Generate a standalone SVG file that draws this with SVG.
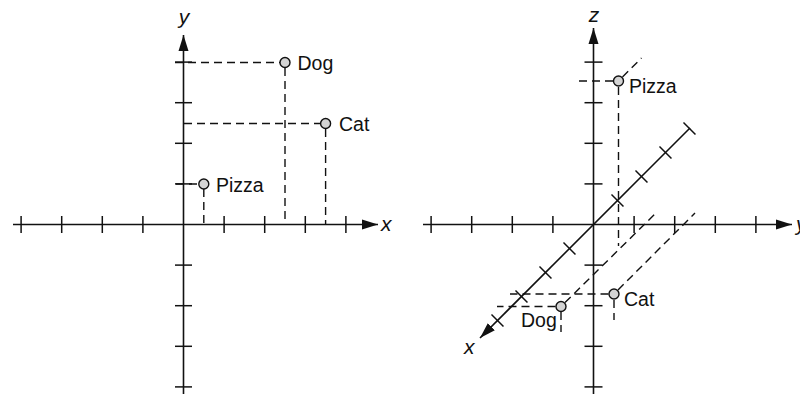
<svg xmlns="http://www.w3.org/2000/svg" width="800" height="394" viewBox="0 0 800 394">
<defs>
<marker id="arr" markerUnits="userSpaceOnUse" markerWidth="16" markerHeight="11" refX="16" refY="5.5" orient="auto">
<path d="M0,0.5 L16,5.5 L0,10.5 z" fill="#111"/>
</marker>
<style>
.ax{stroke:#111;stroke-width:1.6;fill:none}
.tk{stroke:#111;stroke-width:1.5}
.ds{stroke:#111;stroke-width:1.4;stroke-dasharray:8 5;fill:none}
.pt{fill:#d4d4d4;stroke:#111;stroke-width:1.4}
.lb{font-family:"Liberation Sans",Arial,sans-serif;font-size:19.5px;fill:#111}
.al{font-family:"Liberation Sans",Arial,sans-serif;font-size:21px;font-style:italic;fill:#111}
</style>
</defs>
<rect width="800" height="394" fill="#fff"/>

<g id="chart2d">
<g id="axes2d">
<line class="ax" x1="13" y1="224.5" x2="378" y2="224.5" marker-end="url(#arr)"/>
<line class="ax" x1="183.5" y1="394" x2="183.5" y2="35" marker-end="url(#arr)"/>
<g class="tk">
<line x1="21.1" y1="216" x2="21.1" y2="233"/>
<line x1="61.7" y1="216" x2="61.7" y2="233"/>
<line x1="102.3" y1="216" x2="102.3" y2="233"/>
<line x1="142.9" y1="216" x2="142.9" y2="233"/>
<line x1="224.1" y1="216" x2="224.1" y2="233"/>
<line x1="264.7" y1="216" x2="264.7" y2="233"/>
<line x1="305.3" y1="216" x2="305.3" y2="233"/>
<line x1="345.9" y1="216" x2="345.9" y2="233"/>
<line x1="175" y1="62.1" x2="192" y2="62.1"/>
<line x1="175" y1="102.7" x2="192" y2="102.7"/>
<line x1="175" y1="143.3" x2="192" y2="143.3"/>
<line x1="175" y1="183.9" x2="192" y2="183.9"/>
<line x1="175" y1="265.1" x2="192" y2="265.1"/>
<line x1="175" y1="305.7" x2="192" y2="305.7"/>
<line x1="175" y1="346.3" x2="192" y2="346.3"/>
<line x1="175" y1="386.9" x2="192" y2="386.9"/>
</g>
<text class="al" x="184" y="24" text-anchor="middle">y</text>
<text class="al" x="381" y="231">x</text>
</g>
<g id="connectors2d">
<line class="ds" x1="175" y1="62.5" x2="280" y2="62.5"/>
<line class="ds" x1="285" y1="68" x2="285" y2="224"/>
<line class="ds" x1="184" y1="123.5" x2="321" y2="123.5"/>
<line class="ds" x1="325.6" y1="129" x2="325.6" y2="224"/>
<line class="ds" x1="176" y1="184" x2="199" y2="184"/>
<line class="ds" x1="203.8" y1="189" x2="203.8" y2="224"/>
</g>
<g id="dog2d"><circle class="pt" cx="285" cy="62.5" r="5"/><text class="lb" x="297.5" y="70">Dog</text></g>
<g id="cat2d"><circle class="pt" cx="325.6" cy="123.5" r="5"/><text class="lb" x="339" y="130.5">Cat</text></g>
<g id="pizza2d"><circle class="pt" cx="203.8" cy="184" r="5"/><text class="lb" x="216" y="191.5">Pizza</text></g>
</g>

<g id="chart3d">
<g id="axes3d">
<line class="ax" x1="423" y1="224.5" x2="792" y2="224.5" marker-end="url(#arr)"/>
<line class="ax" x1="593.5" y1="394" x2="593.5" y2="28" marker-end="url(#arr)"/>
<line class="ax" x1="690" y1="128" x2="480" y2="338" marker-end="url(#arr)"/>
<g class="tk">
<line x1="431.1" y1="216" x2="431.1" y2="233"/>
<line x1="471.7" y1="216" x2="471.7" y2="233"/>
<line x1="512.3" y1="216" x2="512.3" y2="233"/>
<line x1="552.9" y1="216" x2="552.9" y2="233"/>
<line x1="634.1" y1="216" x2="634.1" y2="233"/>
<line x1="674.7" y1="216" x2="674.7" y2="233"/>
<line x1="715.3" y1="216" x2="715.3" y2="233"/>
<line x1="755.9" y1="216" x2="755.9" y2="233"/>
<line x1="584.5" y1="62.1" x2="602.5" y2="62.1"/>
<line x1="584.5" y1="102.7" x2="602.5" y2="102.7"/>
<line x1="584.5" y1="143.3" x2="602.5" y2="143.3"/>
<line x1="584.5" y1="183.9" x2="602.5" y2="183.9"/>
<line x1="584.5" y1="265.1" x2="602.5" y2="265.1"/>
<line x1="584.5" y1="305.7" x2="602.5" y2="305.7"/>
<line x1="584.5" y1="346.3" x2="602.5" y2="346.3"/>
<line x1="584.5" y1="386.9" x2="602.5" y2="386.9"/>
<line x1="683.5" y1="122.5" x2="695.5" y2="134.5"/>
<line x1="659.5" y1="146.5" x2="671.5" y2="158.5"/>
<line x1="635.5" y1="170.5" x2="647.5" y2="182.5"/>
<line x1="611.5" y1="194.5" x2="623.5" y2="206.5"/>
<line x1="563.5" y1="242.5" x2="575.5" y2="254.5"/>
<line x1="539.5" y1="266.5" x2="551.5" y2="278.5"/>
<line x1="515.5" y1="290.5" x2="527.5" y2="302.5"/>
<line x1="491.5" y1="314.5" x2="503.5" y2="326.5"/>
</g>
<text class="al" x="594" y="22" text-anchor="middle">z</text>
<text class="al" x="464" y="354">x</text>
<text class="al" x="796" y="231">y</text>
</g>
<g id="connectors3d">
<line class="ds" x1="579" y1="81" x2="613" y2="81"/>
<line class="ds" x1="622.5" y1="77" x2="641.5" y2="58"/>
<line class="ds" x1="618.5" y1="87" x2="618.5" y2="246"/>
<line class="ds" x1="608.5" y1="294" x2="510" y2="294"/>
<line class="ds" x1="618" y1="290" x2="695" y2="213"/>
<line class="ds" x1="614" y1="300" x2="614" y2="320"/>
<line class="ds" x1="555.5" y1="306.5" x2="497" y2="306.5"/>
<line class="ds" x1="565" y1="302.5" x2="657" y2="212"/>
<line class="ds" x1="561" y1="312" x2="561" y2="332"/>
</g>
<g id="pizza3d"><circle class="pt" cx="618.5" cy="81" r="5"/><text class="lb" x="629" y="93">Pizza</text></g>
<g id="cat3d"><circle class="pt" cx="614" cy="294" r="5"/><text class="lb" x="624" y="306">Cat</text></g>
<g id="dog3d"><circle class="pt" cx="561" cy="306.5" r="5"/><text class="lb" x="521" y="327">Dog</text></g>
</g>
</svg>
